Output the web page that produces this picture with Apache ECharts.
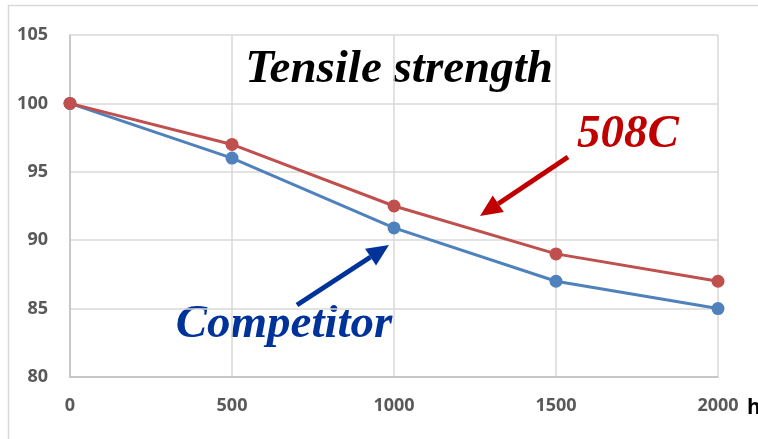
<!DOCTYPE html>
<html><head><meta charset="utf-8">
<script src="https://cdn.jsdelivr.net/npm/echarts@6/dist/echarts.min.js"></script>
<style>html,body{margin:0;padding:0;background:#fff}#c{width:758px;height:439px}</style>
</head><body><div id="c"></div>
<script>
const hours = [0, 500, 1000, 1500, 2000];
const s508C = [100, 97, 92.5, 89, 87];
const competitor = [100, 96, 90.9, 87, 85];
const yTicks = [80, 85, 90, 95, 100, 105];

const chart = echarts.init(document.getElementById('c'));
const lab = {color:'#595959', fontWeight:'bold', fontSize:18, fontFamily:'Open Sans'};
const serif = {fontFamily:'Liberation Serif', fontStyle:'italic', fontWeight:'bold', fontSize:47};
function arrow(x1,y1,x2,y2,color){
  const ang=Math.atan2(y2-y1,x2-x1), L=22, W=10;
  const bx=x2-L*Math.cos(ang), by=y2-L*Math.sin(ang);
  const px=-Math.sin(ang), py=Math.cos(ang);
  return [
    {type:'line',shape:{x1:x1,y1:y1,x2:bx,y2:by},style:{stroke:color,lineWidth:5},z:10},
    {type:'polygon',shape:{points:[[x2,y2],[bx+px*W,by+py*W],[bx-px*W,by-py*W]]},style:{fill:color},z:10}
  ];
}
chart.setOption({
  animation:false,
  grid:{left:70,top:35,right:40,bottom:62},
  xAxis:{type:'value',min:0,max:2000,interval:500,
    axisLine:{show:true,lineStyle:{color:'#bfbfbf',width:1.5}},axisTick:{show:false},
    splitLine:{show:true,lineStyle:{color:'#d9d9d9',width:1.5}},
    axisLabel:Object.assign({margin:20,formatter:v=>String(v)},lab)},
  yAxis:{type:'value',min:yTicks[0],max:yTicks[yTicks.length-1],interval:5,
    axisLine:{show:true,lineStyle:{color:'#bfbfbf',width:1.5}},axisTick:{show:false},
    splitLine:{show:true,lineStyle:{color:'#d9d9d9',width:1.5}},
    axisLabel:Object.assign({margin:22,formatter:v=>String(v)},lab)},
  series:[
    {type:'line',data:hours.map((h,i)=>[h,competitor[i]]),symbol:'circle',symbolSize:13,
      itemStyle:{color:'#4f81bd'},lineStyle:{color:'#4f81bd',width:3},z:2},
    {type:'line',data:hours.map((h,i)=>[h,s508C[i]]),symbol:'circle',symbolSize:13,
      itemStyle:{color:'#c0504d'},lineStyle:{color:'#c0504d',width:3},z:3}
  ],
  graphic:[
    {type:'rect',shape:{x:8.5,y:5.5,width:800,height:500},style:{fill:'none',stroke:'#d9d9d9',lineWidth:1.5},z:-1},
    {type:'text',x:399,y:70,style:Object.assign({text:'Tensile strength',fill:'#000',align:'center',verticalAlign:'middle'},serif)},
    {type:'text',x:628,y:135,style:Object.assign({text:'508C',fill:'#c00000',align:'center',verticalAlign:'middle'},serif)},
    {type:'text',x:284,y:325,style:Object.assign({text:'Competitor',fill:'#003399',align:'center',verticalAlign:'middle'},serif)},
    {type:'text',x:747,y:408,style:{text:'h',fontFamily:'Open Sans',fontWeight:'bold',fontSize:21,fill:'#000',align:'left',verticalAlign:'middle'}},
    ...arrow(568,157,480,216,'#c00000'),
    ...arrow(297,305,389,245,'#003399')
  ]
});
</script></body></html>
